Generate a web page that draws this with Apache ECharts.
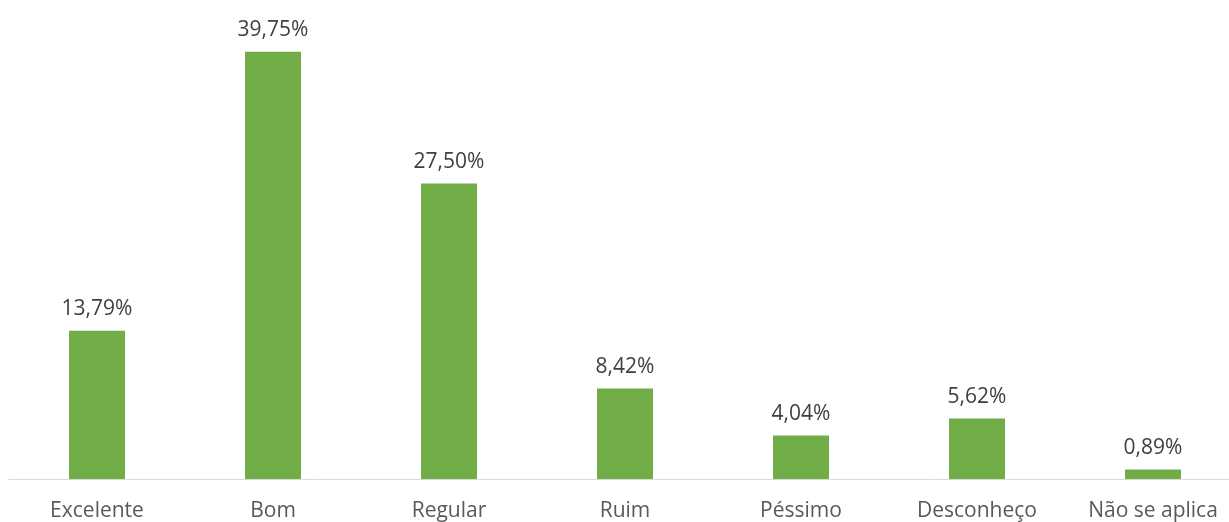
<!DOCTYPE html>
<html><head><meta charset="utf-8">
<script src="https://cdn.jsdelivr.net/npm/echarts@6/dist/echarts.min.js"></script>
<style>html,body{margin:0;padding:0;background:#fff;overflow:hidden}#c{width:1241px;height:522px}</style>
</head><body><div id="c"></div>
<script>
const categories = ["Excelente", "Bom", "Regular", "Ruim", "Péssimo", "Desconheço", "Não se aplica"];
const values = [13.79, 39.75, 27.50, 8.42, 4.04, 5.62, 0.89];

const chart = echarts.init(document.getElementById('c'));
chart.setOption({
  animation: false,
  grid: { left: 9, right: 0, top: 0, height: 480, containLabel: false },
  xAxis: {
    type: 'category', data: categories,
    axisLine: { show: true, lineStyle: { color: '#d9d9d9', width: 1 } },
    axisTick: { show: false },
    axisLabel: { color: '#595959', fontFamily: 'Open Sans', fontSize: 21, margin: 22, interval: 0 }
  },
  yAxis: { type: 'value', min: 0, max: 44.57, show: false, splitLine: { show: false } },
  series: [{
    type: 'bar', data: values, barWidth: 56,
    itemStyle: { color: '#70ad47' },
    label: {
      show: true, position: 'top', distance: 11,
      color: '#404040', fontFamily: 'Open Sans', fontSize: 21,
      formatter: p => p.value.toFixed(2).replace('.', ',') + '%'
    }
  }]
});
</script></body></html>
